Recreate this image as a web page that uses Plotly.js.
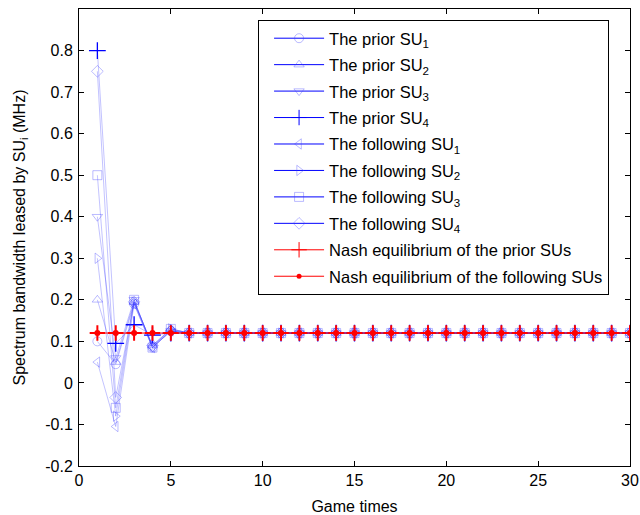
<!DOCTYPE html>
<html>
<head>
<meta charset="utf-8">
<script src="https://cdn.plot.ly/plotly-3.0.1.min.js"></script>
<style>html,body{margin:0;padding:0;background:#fff;}#chart{width:640px;height:515px;}</style>
</head>
<body>
<div id="chart"></div>
<script>
const gameTimes = [1,2,3,4,5,6,7,8,9,10,11,12,13,14,15,16,17,18,19,20,21,22,23,24,25,26,27,28,29,30];

const priorSU1 = [0.10,0.045,0.19,0.085,0.125,0.12,0.12,0.12,0.12,0.12,0.12,0.12,0.12,0.12,0.12,0.12,0.12,0.12,0.12,0.12,0.12,0.12,0.12,0.12,0.12,0.12,0.12,0.12,0.12,0.12];
const priorSU2 = [0.20,0.05,0.195,0.09,0.13,0.12,0.12,0.12,0.12,0.12,0.12,0.12,0.12,0.12,0.12,0.12,0.12,0.12,0.12,0.12,0.12,0.12,0.12,0.12,0.12,0.12,0.12,0.12,0.12,0.12];
const priorSU3 = [0.40,0.06,0.20,0.085,0.125,0.12,0.12,0.12,0.12,0.12,0.12,0.12,0.12,0.12,0.12,0.12,0.12,0.12,0.12,0.12,0.12,0.12,0.12,0.12,0.12,0.12,0.12,0.12,0.12,0.12];
const priorSU4 = [0.80,0.095,0.14,0.115,0.12,0.12,0.12,0.12,0.12,0.12,0.12,0.12,0.12,0.12,0.12,0.12,0.12,0.12,0.12,0.12,0.12,0.12,0.12,0.12,0.12,0.12,0.12,0.12,0.12,0.12];
const followingSU1 = [0.05,-0.105,0.19,0.085,0.125,0.12,0.12,0.12,0.12,0.12,0.12,0.12,0.12,0.12,0.12,0.12,0.12,0.12,0.12,0.12,0.12,0.12,0.12,0.12,0.12,0.12,0.12,0.12,0.12,0.12];
const followingSU2 = [0.30,-0.08,0.195,0.09,0.13,0.12,0.12,0.12,0.12,0.12,0.12,0.12,0.12,0.12,0.12,0.12,0.12,0.12,0.12,0.12,0.12,0.12,0.12,0.12,0.12,0.12,0.12,0.12,0.12,0.12];
const followingSU3 = [0.50,-0.06,0.20,0.085,0.13,0.12,0.12,0.12,0.12,0.12,0.12,0.12,0.12,0.12,0.12,0.12,0.12,0.12,0.12,0.12,0.12,0.12,0.12,0.12,0.12,0.12,0.12,0.12,0.12,0.12];
const followingSU4 = [0.75,-0.035,0.195,0.09,0.125,0.12,0.12,0.12,0.12,0.12,0.12,0.12,0.12,0.12,0.12,0.12,0.12,0.12,0.12,0.12,0.12,0.12,0.12,0.12,0.12,0.12,0.12,0.12,0.12,0.12];
const nashPrior = [0.12,0.12,0.12,0.12,0.12,0.12,0.12,0.12,0.12,0.12,0.12,0.12,0.12,0.12,0.12,0.12,0.12,0.12,0.12,0.12,0.12,0.12,0.12,0.12,0.12,0.12,0.12,0.12,0.12,0.12];
const nashFollowing = [0.12,0.12,0.12,0.12,0.12,0.12,0.12,0.12,0.12,0.12,0.12,0.12,0.12,0.12,0.12,0.12,0.12,0.12,0.12,0.12,0.12,0.12,0.12,0.12,0.12,0.12,0.12,0.12,0.12,0.12];

const seriesNames = ['The prior SU<sub>1</sub>','The prior SU<sub>2</sub>','The prior SU<sub>3</sub>','The prior SU<sub>4</sub>',
  'The following SU<sub>1</sub>','The following SU<sub>2</sub>','The following SU<sub>3</sub>','The following SU<sub>4</sub>'];
const nashNames = ['Nash equilibrium of the prior SUs','Nash equilibrium of the following SUs'];
const xTickVals = [0,5,10,15,20,25,30];
const yTickVals = [-0.2,-0.1,0,0.1,0.2,0.3,0.4,0.5,0.6,0.7,0.8];
const yTickText = ['-0.2','-0.1','0','0.1','0.2','0.3','0.4','0.5','0.6','0.7','0.8'];

const seriesValues = [priorSU1, priorSU2, priorSU3, priorSU4, followingSU1, followingSU2, followingSU3, followingSU4];
const symbols = ['circle-open','triangle-up-open','triangle-down-open','cross-thin-open','triangle-left-open','triangle-right-open','square-open','diamond-open'];

const lightLine = 'rgba(40,40,255,0.28)';
const lightMarker = 'rgba(60,60,255,0.35)';

const traces = [];
seriesValues.forEach((vals, i) => {
  const isPlus = symbols[i] === 'cross-thin-open';
  traces.push({
    x: gameTimes, y: vals, type: 'scatter', mode: 'lines+markers',
    showlegend: false, hoverinfo: 'skip',
    line: {color: lightLine, width: 1},
    marker: {symbol: symbols[i], size: isPlus ? 12 : 9,
      color: isPlus ? 'rgb(0,0,255)' : lightMarker,
      line: {color: isPlus ? 'rgb(0,0,255)' : lightMarker, width: isPlus ? 1.3 : 1}}
  });
});
traces.push({
  x: gameTimes, y: nashPrior, type: 'scatter', mode: 'lines+markers', showlegend: false,
  line: {color: 'rgba(255,0,0,0.6)', width: 1},
  marker: {symbol: 'cross-thin-open', size: 11, color: 'red', line: {color: 'red', width: 2}}
});
traces.push({
  x: gameTimes, y: nashFollowing, type: 'scatter', mode: 'lines+markers', showlegend: false,
  line: {color: 'rgba(255,0,0,0.6)', width: 1},
  marker: {symbol: 'circle', size: 6, color: 'red'}
});
seriesNames.forEach((name, i) => {
  const isPlus = symbols[i] === 'cross-thin-open';
  traces.push({
    x: [null], y: [null], type: 'scatter', mode: 'lines+markers', name: name,
    legendgroup: 'g' + i,
    line: {color: 'rgb(0,0,255)', width: 1},
    marker: {symbol: symbols[i], size: isPlus ? 11 : 9,
      color: isPlus ? 'rgb(0,0,255)' : lightMarker,
      line: {color: isPlus ? 'rgb(0,0,255)' : lightMarker, width: 1}}
  });
});
traces.push({
  x: [null], y: [null], type: 'scatter', mode: 'lines+markers', name: nashNames[0], legendgroup: 'n0',
  line: {color: 'red', width: 1},
  marker: {symbol: 'cross-thin-open', size: 11, color: 'red', line: {color: 'red', width: 1}}
});
traces.push({
  x: [null], y: [null], type: 'scatter', mode: 'lines+markers', name: nashNames[1], legendgroup: 'n1',
  line: {color: 'red', width: 1},
  marker: {symbol: 'circle', size: 5, color: 'red'}
});

const font = {family: 'Arial, "Liberation Sans", Helvetica, sans-serif', size: 16, color: '#000'};

const layout = {
  width: 640, height: 515,
  margin: {l: 79, r: 10, t: 9, b: 49},
  paper_bgcolor: '#fff', plot_bgcolor: '#fff',
  font: font,
  showlegend: true,
  legend: {
    x: 0.325, y: 0.976, xanchor: 'left', yanchor: 'top',
    bgcolor: '#fff', bordercolor: '#000', borderwidth: 1,
    font: {family: font.family, size: 16.5, color: '#000'},
    itemwidth: 50, tracegroupgap: 2, traceorder: 'grouped', indentation: 10
  },
  xaxis: {
    range: [0, 30], tickvals: xTickVals, ticks: 'inside', ticklen: 5, tickcolor: '#000',
    showline: true, linecolor: '#000', linewidth: 1, mirror: 'ticks',
    showgrid: false, zeroline: false,
    tickfont: font,
    title: {text: 'Game times', font: font, standoff: 14}
  },
  yaxis: {
    range: [-0.2, 0.9], tickvals: yTickVals, ticktext: yTickText, ticks: 'inside', ticklen: 5, tickcolor: '#000',
    showline: true, linecolor: '#000', linewidth: 1, mirror: 'ticks',
    showgrid: false, zeroline: false, ticklabelstandoff: 2,
    tickfont: font,
    title: {text: 'Spectrum bandwidth leased by SU<sub>i</sub> (MHz)', font: font, standoff: 15}
  }
};

Plotly.newPlot('chart', traces, layout, {staticPlot: true, displayModeBar: false});
</script>
</body>
</html>
